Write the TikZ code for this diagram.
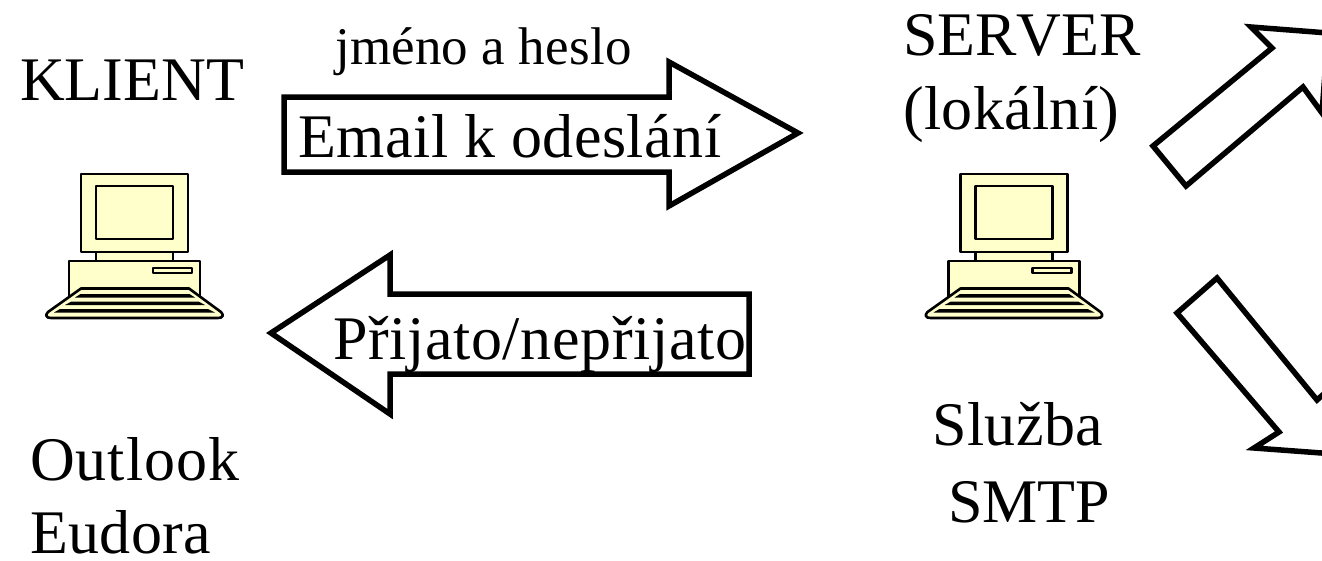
\documentclass[tikz,border=0pt]{standalone}
\usepackage{fontspec}
\setmainfont[Kerning=Off]{Liberation Serif}
\tikzset{
  big/.style={anchor=base west,inner sep=0pt,font=\fontsize{62}{62}\selectfont\addfontfeature{LetterSpace=#1}},
  big/.default=0,
  small/.style={anchor=base west,inner sep=0pt,font=\fontsize{53}{53}\selectfont\addfontfeature{LetterSpace=#1}},
  small/.default=0,
  blockarrow/.style={draw=black,line width=5.5pt,miter limit=10,line join=miter,fill=white},
  pcpart/.style={draw=black,line width=2.6pt,fill=pcyellow,line join=round},
  keyrow/.style={fill=black,draw=none}
}
\definecolor{pcyellow}{HTML}{FFFFCC}
\newcommand{\computer}[1]{%
\begin{scope}[shift={(#1,160)}]
  \draw[pcpart] (66,87) rectangle (143,101);
  \draw[pcpart] (39,101) rectangle (170,145);
  \draw[pcpart] (51,14) rectangle (158,92);
  \draw[pcpart] (66,26) rectangle (143,79);
  \draw[pcpart] (123,108) rectangle (162,113);
  \draw[pcpart] (51,128.5) -- (159,128.5) -- (191,152) .. controls (194,155) and (193,158) .. (188,158)
     -- (21,158) .. controls (16,158) and (15,155) .. (18,152) -- cycle;
  \fill[keyrow] (50.5,134) -- (159.5,134) -- (165,137.5) -- (45,137.5) -- cycle;
  \fill[keyrow] (41.5,141.5) -- (168.5,141.5) -- (175,145) -- (35,145) -- cycle;
  \fill[keyrow] (30,149) -- (178,149) -- (185,152.5) -- (24,152.5) -- cycle;
\end{scope}}
\begin{document}
\begin{tikzpicture}[x=1pt,y=-1pt]
\useasboundingbox (0,0) rectangle (1322,560);
\clip (0,0) rectangle (1322,560);
\fill[white] (0,0) rectangle (1322,560);
\computer{30}
\computer{909.5}
\draw[blockarrow] (284,97) -- (669,97) -- (669,62) -- (798,133) -- (669,206) -- (669,172) -- (284,172) -- cycle;
\draw[blockarrow] (749,294) -- (390,294) -- (390,255) -- (271,333) -- (390,414) -- (390,374) -- (749,374) -- cycle;
\draw[blockarrow] (1153,146) -- (1272,48) -- (1251,27) -- (1328,33) -- (1322,113) -- (1303,87) -- (1186,186) -- cycle;
\draw[blockarrow] (1177,313) -- (1279,432) -- (1254,448) -- (1335,454) -- (1345,375) -- (1317,400) -- (1217,278) -- cycle;
\node[big] (klient) at (20,100.5) {KLIENT};
\node[small=0.4] (jmeno) at (335,64) {jméno a heslo};
\node[big=0.8] (email) at (298,157) {Email k odeslání};
\node[big] (server) at (903,55) {SERVER};
\node[big=0.5] (lokalni) at (903,129) {(lokální)};
\node[big=1.0] (prijato) at (333,359) {Přijato/nepřijato};
\node[big=1.6] (outlook) at (30,480) {Outlook};
\node[big=0.5] (eudora) at (30,553) {Eudora};
\node[big=0.8] (sluzba) at (932,445) {Služba};
\node[big] (smtp) at (948,522) {SMTP};
\end{tikzpicture}
\end{document}
